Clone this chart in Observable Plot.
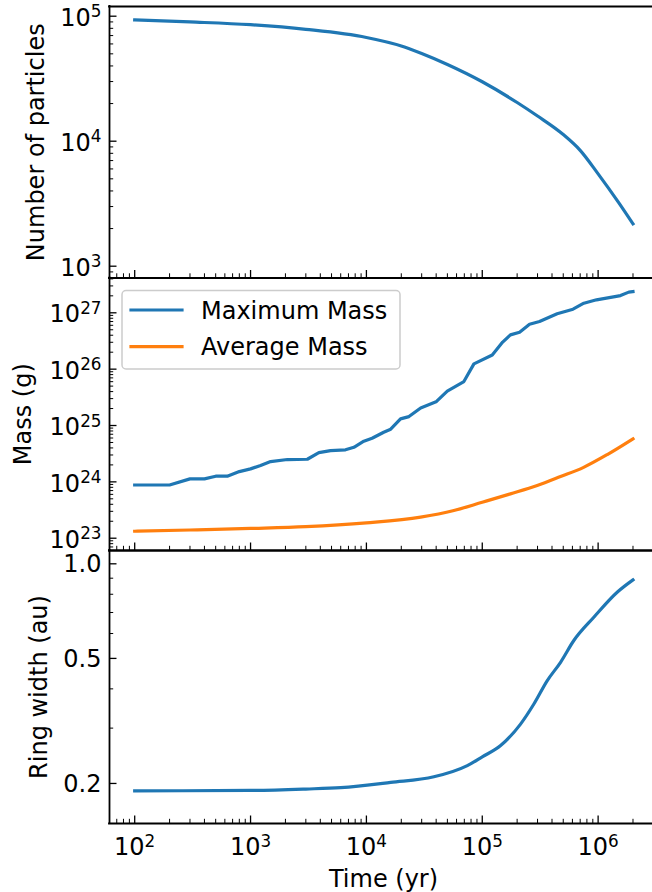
<!DOCTYPE html>
<html>
<head>
<meta charset="utf-8">
<script src="https://cdn.jsdelivr.net/npm/d3@7"></script>
<script src="https://cdn.jsdelivr.net/npm/@observablehq/plot@0.6"></script>
<style>
  html, body { margin: 0; padding: 0; background: #fff; overflow: hidden; }
  #fig { position: relative; width: 652px; height: 892px; font-family: "DejaVu Sans", sans-serif; }
  #fig svg { position: absolute; left: 0; top: 0; }
</style>
</head>
<body>
<div id="fig"></div>
<script>
// ---- Number of particles ----
const particleTime  = [1e2, 3e2, 1e3, 3e3, 1e4, 2e4, 3e4, 5e4, 1e5, 2e5, 3e5, 5e5, 7e5, 1e6, 1.5e6, 2e6];
const particleCount = [93500, 90000, 85500, 78500, 67600, 57800, 50300, 41100, 29900, 20400, 15900, 11300, 8450, 5480, 3240, 2180];

// ---- Maximum mass (g) ----
const maxMassTime = [100, 200, 300, 400, 500, 630, 800, 1000, 1220, 1490, 2080, 3090, 3890, 4900, 6600, 7800, 9500,
  11200, 14100, 16200, 19700, 23300, 29400, 39900, 49900, 69400, 84700, 122000, 150000, 175000, 210000, 256000,
  312000, 443000, 607000, 753000, 969000, 1560000, 1840000, 2000000];
const maxMass = [8.8e23, 8.8e23, 1.13e24, 1.13e24, 1.26e24, 1.26e24, 1.52e24, 1.70e24, 1.95e24, 2.29e24, 2.49e24,
  2.52e24, 3.31e24, 3.59e24, 3.70e24, 4.11e24, 5.26e24, 5.94e24, 7.6e24, 8.6e24, 1.31e25, 1.44e25, 2.05e25, 2.63e25,
  4.08e25, 6.02e25, 1.24e26, 1.78e26, 3.02e26, 4.06e26, 4.52e26, 6.27e26, 7.0e26, 9.6e26, 1.16e27, 1.48e27, 1.70e27,
  2.02e27, 2.33e27, 2.38e27];

// ---- Average mass (g) ----
const avgMassTime = [1e2, 3e2, 1e3, 3e3, 1e4, 2.94e4, 5.69e4, 1e5, 1.75e5, 2.98e5, 4.74e5, 7.5e5, 1.2e6, 2e6];
const avgMass = [1.33e23, 1.40e23, 1.49e23, 1.60e23, 1.87e23, 2.36e23, 3.10e23, 4.35e23, 6.12e23, 8.6e23, 1.24e24, 1.81e24, 3.05e24, 5.8e24];

// ---- Ring width (au) ----
const widthTime = [1e2, 1e3, 3e3, 6e3, 1.62e4, 3.82e4, 7.43e4, 1e5, 1.44e5, 2.14e5, 2.79e5, 3.64e5, 4.74e5, 6.17e5, 9.18e5, 1.46e6, 2e6];
const ringWidth = [0.1895, 0.190, 0.192, 0.194, 0.2016, 0.210, 0.228, 0.243, 0.264, 0.309, 0.358, 0.425, 0.486, 0.570, 0.676, 0.812, 0.889];

// ---- Tick values and labels ----
const xMajor = [1e2, 1e3, 1e4, 1e5, 1e6];
const xTickLabels = ["10²", "10³", "10⁴", "10⁵", "10⁶"];
const countMajor = [1e3, 1e4, 1e5];
const countTickLabels = ["10³", "10⁴", "10⁵"];
const massMajor = [1e23, 1e24, 1e25, 1e26, 1e27];
const massTickLabels = ["10²³", "10²⁴", "10²⁵", "10²⁶", "10²⁷"];
const widthMajor = [0.2, 0.5, 1.0];
const widthTickLabels = ["0.2", "0.5", "1.0"];
const widthMinor = [0.3, 0.4, 0.6, 0.7, 0.8, 0.9];

const legendLabels = ["Maximum Mass", "Average Mass"];
const BLUE = "#1f77b4", ORANGE = "#ff7f0e";

// ---- Layout ----
const W = 652, H = 892, LEFT = 109;
const FONT = "DejaVu Sans", FS = 24;
const xDomain = [10 ** 1.7825, 10 ** 6.516];
const xRange = [LEFT, 657.4];

// log minor ticks (2..9 × 10^k) inside a domain
function minorTicks([lo, hi]) {
  const out = [];
  for (let k = Math.floor(Math.log10(lo)); k <= Math.ceil(Math.log10(hi)); ++k)
    for (let m = 2; m <= 9; ++m) {
      const v = m * 10 ** k;
      if (v >= lo && v <= hi) out.push(v);
    }
  return out;
}
const xMinor = minorTicks(xDomain);

function panel({top, bottom, yDomain, series, yMajor, yLabels, yMinor, ylabel, labelDx, yLabelDy, showX}) {
  const fh = bottom - top, fw = W - LEFT;
  const marks = [];
  for (const s of series) {
    marks.push(Plot.line(s.t.map((t, i) => ({t, v: s.v[i]})), {
      x: "t", y: "v", stroke: s.color, strokeWidth: 3.2, curve: s.curve, strokeLinecap: "square"
    }));
  }
  // spines (left, top, bottom)
  marks.push(Plot.ruleX([xDomain[0]], {stroke: "black", strokeWidth: 1.8, strokeLinecap: "square"}));
  marks.push(Plot.ruleY(yDomain, {stroke: "black", strokeWidth: 1.8, strokeLinecap: "square"}));
  // inward ticks
  marks.push(Plot.tickY(yMajor, {y: d => d, insetRight: fw - 7.5, stroke: "black", strokeWidth: 1.3}));
  marks.push(Plot.tickY(yMinor, {y: d => d, insetRight: fw - 4.2, stroke: "black", strokeWidth: 1.0}));
  marks.push(Plot.tickX(xMajor, {x: d => d, insetTop: fh - 7.5, stroke: "black", strokeWidth: 1.3}));
  marks.push(Plot.tickX(xMinor, {x: d => d, insetTop: fh - 4.2, stroke: "black", strokeWidth: 1.0}));
  // y tick labels
  marks.push(Plot.text(yMajor, {
    y: d => d, text: (d, i) => yLabels[i], frameAnchor: "left", textAnchor: "end", lineAnchor: "middle",
    dx: -8, dy: yLabelDy, fontSize: FS, fill: "black"
  }));
  // y axis label
  marks.push(Plot.text([ylabel], {
    frameAnchor: "left", textAnchor: "middle", lineAnchor: "middle", rotate: -90, dx: labelDx,
    fontSize: FS, fill: "black"
  }));
  if (showX) {
    marks.push(Plot.text(xMajor, {
      x: d => d, text: (d, i) => xTickLabels[i], frameAnchor: "bottom", textAnchor: "middle",
      lineAnchor: "middle", dy: 24, fontSize: FS, fill: "black"
    }));
    marks.push(Plot.text(["Time (yr)"], {
      frameAnchor: "bottom", textAnchor: "middle", lineAnchor: "middle", dx: 2.5, dy: 55.5,
      fontSize: FS, fill: "black"
    }));
  }
  return Plot.plot({
    width: W, height: H,
    marginLeft: LEFT, marginRight: 0, marginTop: top, marginBottom: H - bottom,
    x: {type: "log", domain: xDomain, range: xRange, axis: null},
    y: {type: "log", domain: yDomain, range: [bottom, top], axis: null},
    style: {background: "transparent", fontFamily: FONT, fontSize: FS + "px", color: "black", overflow: "visible"},
    marks
  });
}

const fig = document.getElementById("fig");

const countDomain = [10 ** 2.9056, 10 ** 5.0776];
fig.append(panel({
  top: 6, bottom: 277.5, yDomain: countDomain,
  series: [{t: particleTime, v: particleCount, color: BLUE, curve: "monotone-x"}],
  yMajor: countMajor, yLabels: countTickLabels, yMinor: minorTicks(countDomain),
  ylabel: "Number of particles", labelDx: -73, yLabelDy: 2, showX: false
}));

const massDomain = [10 ** 22.782, 10 ** 27.6176];
fig.append(panel({
  top: 277.5, bottom: 550, yDomain: massDomain,
  series: [
    {t: maxMassTime, v: maxMass, color: BLUE, curve: "linear"},
    {t: avgMassTime, v: avgMass, color: ORANGE, curve: "monotone-x"}
  ],
  yMajor: massMajor, yLabels: massTickLabels, yMinor: minorTicks(massDomain),
  ylabel: "Mass (g)", labelDx: -86, yLabelDy: 2, showX: false
}));

const widthDomain = [10 ** -0.8264, 10 ** 0.04236];
fig.append(panel({
  top: 550, bottom: 823, yDomain: widthDomain,
  series: [{t: widthTime, v: ringWidth, color: BLUE, curve: "monotone-x"}],
  yMajor: widthMajor, yLabels: widthTickLabels, yMinor: widthMinor,
  ylabel: "Ring width (au)", labelDx: -70, yLabelDy: 1, showX: true
}));

// typeset power-of-ten labels with a raised, smaller exponent
const SUP = "⁰¹²³⁴⁵⁶⁷⁸⁹";
fig.querySelectorAll("text").forEach(el => {
  const m = el.textContent.match(/^10([⁰¹²³⁴⁵⁶⁷⁸⁹]+)$/);
  if (!m) return;
  const exp = [...m[1]].map(c => SUP.indexOf(c)).join("");
  el.textContent = "10";
  const ts = document.createElementNS("http://www.w3.org/2000/svg", "tspan");
  ts.style.fontSize = "0.7em";
  ts.setAttribute("dy", "-0.5em");
  ts.textContent = exp;
  el.appendChild(ts);
});

// legend for the mass panel
const leg = d3.select(fig).append("svg").attr("width", W).attr("height", H)
  .style("font-family", FONT).style("font-size", FS + "px");
leg.append("rect")
  .attr("x", 122).attr("y", 290.5).attr("width", 278).attr("height", 78.5).attr("rx", 4)
  .attr("fill", "white").attr("fill-opacity", 0.8).attr("stroke", "#cccccc").attr("stroke-width", 1.5);
[BLUE, ORANGE].forEach((c, i) => {
  const y = 310 + i * 36.7;
  leg.append("line").attr("x1", 131).attr("x2", 182).attr("y1", y).attr("y2", y)
    .attr("stroke", c).attr("stroke-width", 3.2).attr("stroke-linecap", "square");
  leg.append("text").attr("x", 201).attr("y", y + 8.7).attr("fill", "black").text(legendLabels[i]);
});
</script>
</body>
</html>
